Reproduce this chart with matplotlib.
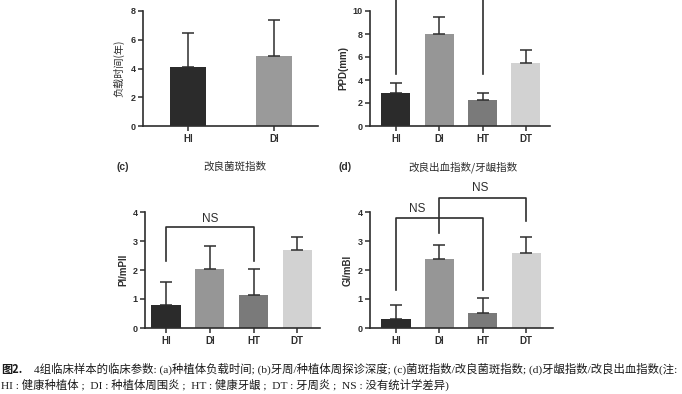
import numpy as np
import matplotlib
matplotlib.use('Agg')
import matplotlib.pyplot as plt

plt.rcParams['font.family'] = ['Liberation Sans', 'Noto Sans CJK SC']

# data
groups4 = ['HI', 'DI', 'HT', 'DT']
groups2 = ['HI', 'DI']
load_mean = [4.1, 4.9]
load_err = [2.4, 2.5]
ppd_mean = [2.85, 8.0, 2.25, 5.5]
ppd_err = [0.85, 1.5, 0.65, 1.1]
pli_mean = [0.78, 2.05, 1.15, 2.7]
pli_err = [0.8, 0.77, 0.87, 0.45]
gi_mean = [0.32, 2.38, 0.52, 2.6]
gi_err = [0.48, 0.47, 0.5, 0.53]

colors4 = ['#2b2b2b', '#969696', '#7a7a7a', '#d2d2d2']
colors2 = ['#2b2b2b', '#9a9a9a']
ink = '#2e2e2e'

W, H = 682, 394
fig = plt.figure(figsize=(W / 100, H / 100), dpi=100)


def make_ax(l, t, r, b):
    return fig.add_axes([l / W, 1 - b / H, (r - l) / W, (b - t) / H])


def style(ax, labels, ylabel, cjk=False):
    for s in ['top', 'right']:
        ax.spines[s].set_visible(False)
    for s in ['left', 'bottom']:
        ax.spines[s].set_linewidth(1.2)
        ax.spines[s].set_color(ink)
    ax.set_xticks(range(len(labels)))
    ax.set_xticklabels(labels, fontweight='bold', fontsize=7, color=ink)
    ax.tick_params(axis='both', length=3.5, width=1.1, color=ink, pad=2)
    ax.tick_params(axis='y', labelsize=6.5, labelcolor=ink)
    for t in ax.get_yticklabels():
        t.set_fontweight('bold')
    if cjk:
        ax.set_ylabel(ylabel, fontsize=7.3, color=ink, family=['Noto Sans CJK SC'], labelpad=4)
    else:
        ax.set_ylabel(ylabel, fontsize=7, fontweight='bold', color=ink, labelpad=3)


def bars(ax, mean, err, colors, width):
    x = np.arange(len(mean))
    ax.bar(x, mean, width=width, color=colors, zorder=2)
    ax.errorbar(x, mean, yerr=[np.zeros(len(err)), err], fmt='none',
                ecolor=ink, elinewidth=1.1, capsize=4.5, capthick=1.1, zorder=3)


def bracket(ax, x1, x2, y, y1, y2):
    ax.plot([x1, x1, x2, x2], [y1, y, y, y2], color=ink, lw=1.2, clip_on=False, zorder=4)


# (a)
ax = make_ax(143, 11, 318, 126)
bars(ax, load_mean, load_err, colors2, 0.42)
ax.set_xlim(-0.52, 1.51)
ax.set_ylim(0, 8)
ax.set_yticks([0, 2, 4, 6, 8])
style(ax, groups2, '负载时间(年)', cjk=True)

# (b)
ax = make_ax(370, 11, 550, 126)
bars(ax, ppd_mean, ppd_err, colors4, 0.67)
ax.set_xlim(-0.6, 3.56)
ax.set_ylim(0, 10)
ax.set_yticks([0, 2, 4, 6, 8, 10])
style(ax, groups4, 'PPD(mm)')
ax.plot([0, 0], [4.5, 12], color=ink, lw=1.2, clip_on=False)
ax.plot([2, 2], [4.5, 12], color=ink, lw=1.2, clip_on=False)

# (c)
ax = make_ax(145, 212, 320, 328)
bars(ax, pli_mean, pli_err, colors4, 0.67)
ax.set_xlim(-0.48, 3.52)
ax.set_ylim(0, 4)
ax.set_yticks([0, 1, 2, 3, 4])
style(ax, groups4, 'PI/mPII')
bracket(ax, 0, 2, 3.5, 2.3, 2.3)
ax.text(1, 3.55, 'NS', ha='center', va='bottom', fontsize=8.5, color=ink)

# (d)
ax = make_ax(370, 212, 553, 328)
bars(ax, gi_mean, gi_err, colors4, 0.67)
ax.set_xlim(-0.6, 3.62)
ax.set_ylim(0, 4)
ax.set_yticks([0, 1, 2, 3, 4])
style(ax, groups4, 'GI/mBI')
bracket(ax, 0, 2, 3.79, 1.3, 1.3)
bracket(ax, 1, 3, 4.5, 3.27, 3.68)
ax.text(0.48, 3.9, 'NS', ha='center', va='bottom', fontsize=8.5, color=ink)
ax.text(1.94, 4.62, 'NS', ha='center', va='bottom', fontsize=8.5, color=ink)

# panel titles
fig.text(123 / W, 1 - 167 / H, '(c)', fontsize=7.5, fontweight='bold', color=ink, va='center', ha='center')
fig.text(235 / W, 1 - 167 / H, '改良菌斑指数', fontsize=7.6, color=ink, va='center', ha='center',
         family=['Noto Sans CJK SC'])
fig.text(345 / W, 1 - 167 / H, '(d)', fontsize=7.5, fontweight='bold', color=ink, va='center', ha='center')
fig.text(463 / W, 1 - 167 / H, '改良出血指数/牙龈指数', fontsize=7.6, color=ink, va='center', ha='center',
         family=['Noto Sans CJK SC', 'DejaVu Sans'])

# caption
cap_font = ['Liberation Serif', 'Noto Sans CJK SC']
fig.text(1 / W, 1 - 369 / H, '图2.', fontsize=8, fontweight='bold', color='#1a1a1a',
         va='center', ha='left', family=['Noto Sans CJK SC', 'DejaVu Sans'])
fig.text(34 / W, 1 - 369 / H,
         '4组临床样本的临床参数: (a)种植体负载时间; (b)牙周/种植体周探诊深度; '
         '(c)菌斑指数/改良菌斑指数; (d)牙龈指数/改良出血指数(注:',
         fontsize=8.2, color='#1a1a1a', va='center', ha='left', family=cap_font)
fig.text(1 / W, 1 - 385 / H,
         'HI : 健康种植体 ;  DI : 种植体周围炎 ;  HT : 健康牙龈 ;  DT : 牙周炎 ;  NS : 没有统计学差异)',
         fontsize=8.2, color='#1a1a1a', va='center', ha='left', family=cap_font)

fig.savefig('out.png', dpi=100, facecolor='white')
